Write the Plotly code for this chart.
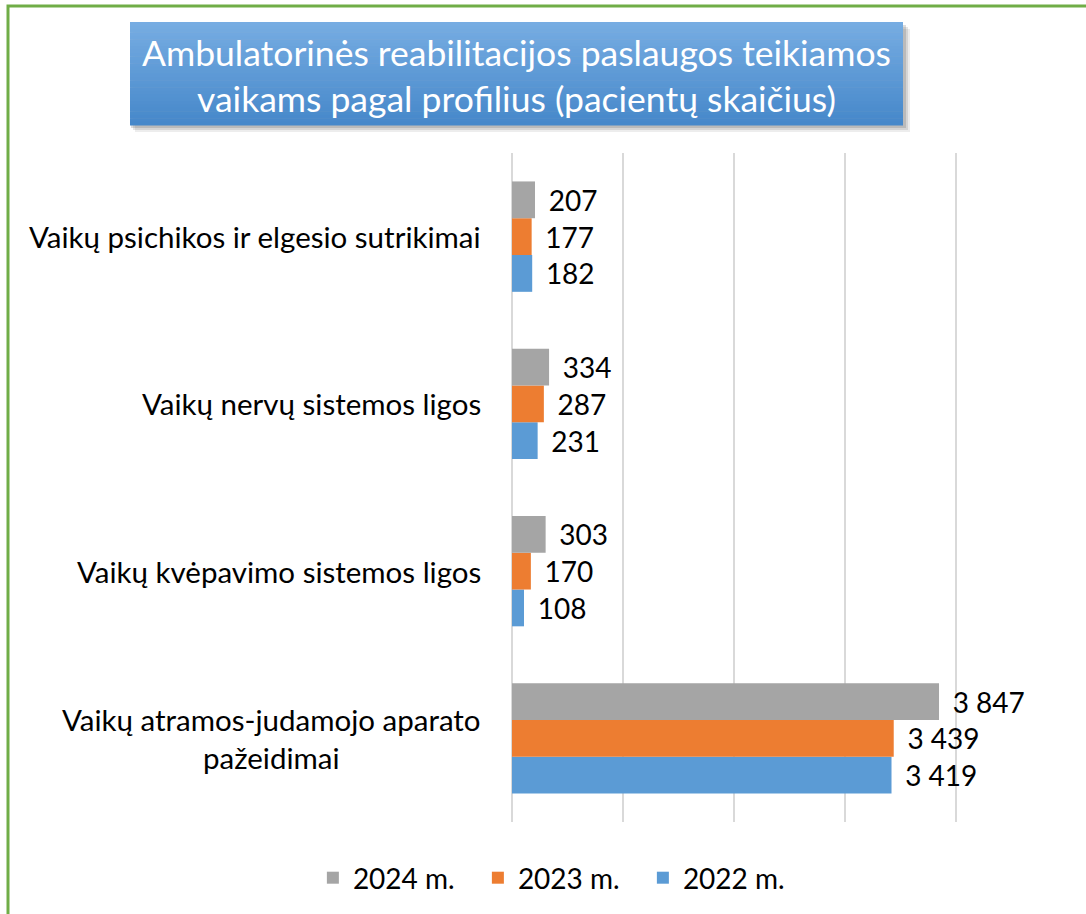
import plotly.graph_objects as go

categories = [
    "Vaikų atramos-judamojo aparato<br>pažeidimai",
    "Vaikų kvėpavimo sistemos ligos",
    "Vaikų nervų sistemos ligos",
    "Vaikų psichikos ir elgesio sutrikimai",
]
series_names = ["2022 m.", "2023 m.", "2024 m."]
values_2022 = [3419, 108, 231, 182]
values_2023 = [3439, 170, 287, 177]
values_2024 = [3847, 303, 334, 207]
colors = ["#5b9bd5", "#ed7d31", "#a5a5a5"]
title_lines = ["Ambulatorinės reabilitacijos paslaugos teikiamos",
               "vaikams pagal profilius (pacientų skaičius)"]

FONT = "Lato"
W, H = 1086, 914
L, R, T, B = 512, 1067, 153, 822  # plot area in px


def px(x):
    return (x - L) / (R - L)


def py(y):
    return (B - y) / (B - T)


def fmt(v):
    return "\u00a0\u2009" + f"{v:,}".replace(",", " ")


fig = go.Figure()
for name, vals, col in zip(series_names, [values_2022, values_2023, values_2024], colors):
    fig.add_trace(go.Bar(
        y=categories, x=vals, name=name, orientation="h",
        marker=dict(color=col, line=dict(width=0)),
        text=[fmt(v) for v in vals], textposition="outside",
        textfont=dict(family=FONT, size=28, color="#000000"),
        constraintext="none", cliponaxis=False,
    ))

shapes = []
# outer green border
shapes.append(dict(type="rect", xref="paper", yref="paper",
                   x0=px(8), x1=px(1100), y0=py(6), y1=py(940),
                   line=dict(color="#70ad47", width=3), fillcolor="rgba(0,0,0,0)", layer="below"))
# title box shadow
for off, op in [(7, 0.10), (5, 0.15), (3, 0.2)]:
    shapes.append(dict(type="rect", xref="paper", yref="paper",
                       x0=px(130 + off - 2), x1=px(903 + off), y0=py(22 + off), y1=py(125 + off),
                       line=dict(width=0), fillcolor=f"rgba(80,80,80,{op})", layer="below"))
# title box gradient
y0, y1 = 22, 125
n = 30
top = (118, 172, 226)
bot = (70, 136, 202)
for i in range(n):
    t = i / (n - 1)
    c = tuple(int(round(top[k] + (bot[k] - top[k]) * t)) for k in range(3))
    ya = y0 + (y1 - y0) * i / n
    yb = y0 + (y1 - y0) * (i + 1) / n
    shapes.append(dict(type="rect", xref="paper", yref="paper",
                       x0=px(130), x1=px(903), y0=py(ya), y1=py(yb + 0.5),
                       line=dict(width=0), fillcolor=f"rgb{c}", layer="below"))

annotations = [dict(
    text="<br>".join(title_lines), xref="paper", yref="paper",
    x=px(516), y=py(75), xanchor="center", yanchor="middle", showarrow=False,
    align="center", font=dict(family=FONT, size=35.5, color="white"))]
for cat in categories:
    annotations.append(dict(
        text=cat, xref="paper", yref="y", x=px(483), y=cat,
        xanchor="right", yanchor="middle", showarrow=False, align="center",
        font=dict(family=FONT, size=29.5, color="#000000")))

fig.update_layout(
    width=W, height=H,
    margin=dict(l=L, r=W - R, t=T, b=H - B, autoexpand=False),
    paper_bgcolor="white", plot_bgcolor="white",
    barmode="group", bargap=0.34, bargroupgap=0,
    font=dict(family=FONT, size=28, color="#000000"),
    shapes=shapes, annotations=annotations,
    showlegend=True,
    legend=dict(orientation="h", traceorder="reversed", xref="container", yref="container",
                x=0.516, y=1 - 878 / H, xanchor="center", yanchor="middle",
                entrywidth=120, entrywidthmode="pixels",
                font=dict(family=FONT, size=28, color="#000000"), itemclick=False),
    xaxis=dict(range=[0, 5000], dtick=1000, showticklabels=False, showgrid=True,
               gridcolor="#d9d9d9", gridwidth=1.5, zeroline=True, zerolinecolor="#d9d9d9",
               zerolinewidth=1.5, showline=False, fixedrange=True),
    yaxis=dict(showticklabels=False, showgrid=False, zeroline=False, showline=False,
               categoryorder="array", categoryarray=categories, fixedrange=True),
)

fig.write_html("out.html", config={"displayModeBar": False},
               post_script="document.body.style.margin='0';document.body.style.overflow='hidden';")
